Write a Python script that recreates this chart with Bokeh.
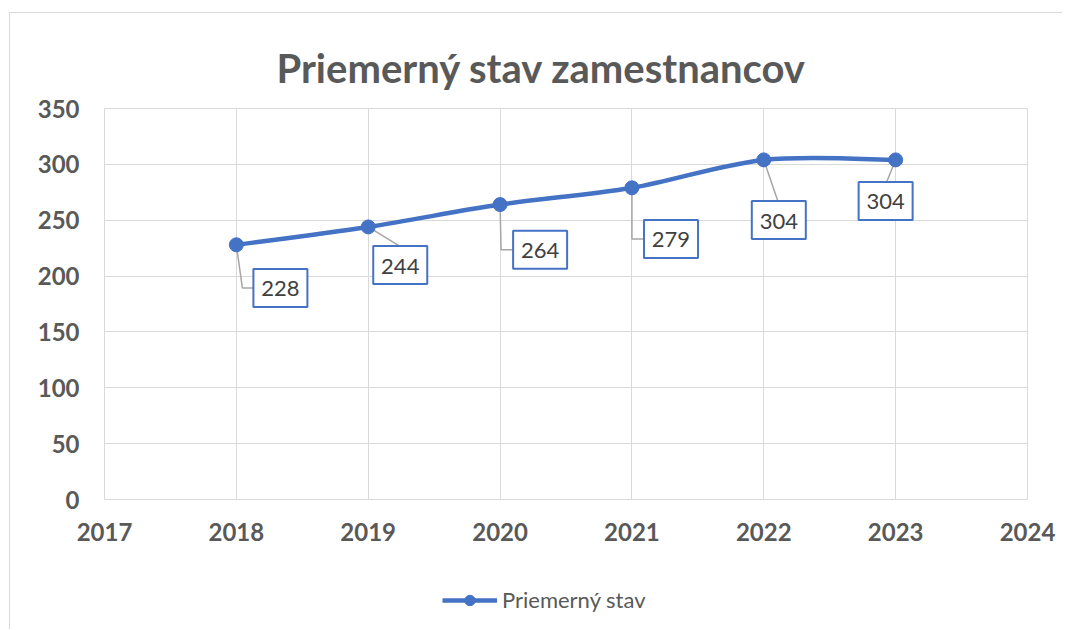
from bokeh.plotting import figure
from bokeh.models import Range1d, FixedTicker, Legend, LegendItem
from bokeh.layouts import column
from bokeh.core.properties import value
from bokeh.embed import file_html
from bokeh.resources import INLINE

# ---- data ----
years = [2018, 2019, 2020, 2021, 2022, 2023]
staff = [228, 244, 264, 279, 304, 304]
x_ticks = [2017, 2018, 2019, 2020, 2021, 2022, 2023, 2024]
y_ticks = [0, 50, 100, 150, 200, 250, 300, 350]
title_text = "Priemerný stav zamestnancov"
series_name = "Priemerný stav"

# ---- style / layout constants ----
BLUE = "#4472C4"
GRAY_TXT = "#595959"
GRID = "#d9d9d9"
FONT = "Lato"
FRAME_W, FRAME_H = 922, 390
X0, X1 = 2017, 2024
Y0, Y1 = 0, 350
PX_X = FRAME_W / (X1 - X0)
PX_Y = FRAME_H / (Y1 - Y0)

label_off = [(44, 43), (32, 38), (40, 45), (39, 51), (15, 60), (-10, 41)]
leader_off = [
    [(0, 0), (6, 43), (17, 43)],
    [(0, 0), (31, 19)],
    [(0, 0), (1, 45), (13, 45)],
    [(0, 0), (0, 51), (12, 51)],
    [(0, 0), (14, 41)],
    [(0, 0), (-9, 22)],
]

p = figure(
    frame_width=FRAME_W, frame_height=FRAME_H,
    min_border_left=94, min_border_right=36, min_border_top=95, min_border_bottom=60,
    x_range=Range1d(X0, X1), y_range=Range1d(Y0, Y1),
    output_backend="svg", toolbar_location=None,
)
p.margin = (12, 0, 0, 9)
p.styles = {"border-top": "1px solid #d9d9d9", "border-left": "1px solid #d9d9d9"}

p.title.text = title_text
p.title.align = "left"
p.title.offset = 172
p.title.text_font = FONT
p.title.text_font_size = "40px"
p.title.text_font_style = "bold"
p.title.text_color = GRAY_TXT
p.title.standoff = 34

p.outline_line_color = GRID
p.outline_line_width = 1
p.background_fill_color = "white"
p.border_fill_color = "white"

for ax in (p.xaxis[0], p.yaxis[0]):
    ax.axis_line_color = None
    ax.major_tick_line_color = None
    ax.minor_tick_line_color = None
    ax.major_label_text_font = FONT
    ax.major_label_text_font_size = "24px"
    ax.major_label_text_font_style = "bold"
    ax.major_label_text_color = GRAY_TXT
p.xaxis[0].ticker = FixedTicker(ticks=x_ticks)
p.yaxis[0].ticker = FixedTicker(ticks=y_ticks)
p.xaxis[0].major_label_standoff = 17
p.yaxis[0].major_label_standoff = 19

p.xgrid.grid_line_color = GRID
p.ygrid.grid_line_color = GRID
p.xgrid.ticker = FixedTicker(ticks=x_ticks)
p.ygrid.ticker = FixedTicker(ticks=y_ticks)

# ---- smoothed line (Bezier segments through the data points) ----
n = len(years)
x0s, y0s, x1s, y1s, cx0, cy0, cx1, cy1 = [], [], [], [], [], [], [], []
for i in range(n - 1):
    xp, yp = (years[i - 1], staff[i - 1]) if i > 0 else (years[i], staff[i])
    xa, ya = years[i], staff[i]
    xb, yb = years[i + 1], staff[i + 1]
    xn, yn = (years[i + 2], staff[i + 2]) if i + 2 < n else (xb, yb)
    x0s.append(xa); y0s.append(ya); x1s.append(xb); y1s.append(yb)
    cx0.append(xa + (xb - xp) / 6); cy0.append(ya + (yb - yp) / 6)
    cx1.append(xb - (xn - xa) / 6); cy1.append(yb - (yn - ya) / 6)
p.bezier(x0=x0s, y0=y0s, x1=x1s, y1=y1s, cx0=cx0, cy0=cy0, cx1=cx1, cy1=cy1,
         line_color=BLUE, line_width=4.5)

# ---- leader lines ----
lx, ly = [], []
for xv, yv, path in zip(years, staff, leader_off):
    lx.append([xv + dx / PX_X for dx, dy in path])
    ly.append([yv - dy / PX_Y for dx, dy in path])
p.multi_line(xs=lx, ys=ly, line_color="#a6a6a6", line_width=1.5)

# ---- markers ----
p.scatter(years, staff, size=14, fill_color=BLUE, line_color=BLUE)

# ---- data label boxes ----
bx = [xv + dx / PX_X for xv, (dx, dy) in zip(years, label_off)]
by = [yv - dy / PX_Y for yv, (dx, dy) in zip(staff, label_off)]
p.rect(x=bx, y=by, width=54, height=38, width_units="screen", height_units="screen",
       fill_color="white", line_color=BLUE, line_width=2)
p.text(x=bx, y=by, text=[str(v) for v in staff], text_align="center", text_baseline="middle",
       text_font=value(FONT), text_font_size="22px", text_color="#404040", y_offset=1)

# ---- legend strip (separate figure below the chart) ----
leg_fig = figure(
    width=p.frame_width + 94 + 36, height=71,
    x_range=Range1d(0, 1), y_range=Range1d(0, 1),
    x_axis_type=None, y_axis_type=None,
    min_border=0, output_backend="svg", toolbar_location=None,
)
leg_fig.margin = (0, 0, 0, 9)
leg_fig.styles = {"border-left": "1px solid #d9d9d9"}
leg_fig.outline_line_color = None
leg_fig.xgrid.visible = False
leg_fig.ygrid.visible = False
leg_fig.background_fill_color = "white"
leg_fig.border_fill_color = "white"
# proxies: real points, out of this strip's view, so only the legend shows
leg_line = leg_fig.line(x=years[:2], y=staff[:2], line_color=BLUE, line_width=4.5)
leg_pt = leg_fig.scatter(x=years[:1], y=staff[:1], size=15, fill_color=BLUE, line_color=BLUE)
legend = Legend(items=[LegendItem(label=series_name, renderers=[leg_line, leg_pt])],
                location=(338, 16), orientation="horizontal",
                glyph_width=55, glyph_height=26, label_height=26, label_standoff=5,
                padding=0, margin=0, border_line_color=None, background_fill_alpha=0,
                label_text_font=FONT, label_text_font_size="22px", label_text_color=GRAY_TXT)
leg_fig.add_layout(legend, "center")

layout = column(p, leg_fig, spacing=0)
open("out.html", "w").write(file_html(layout, INLINE))
